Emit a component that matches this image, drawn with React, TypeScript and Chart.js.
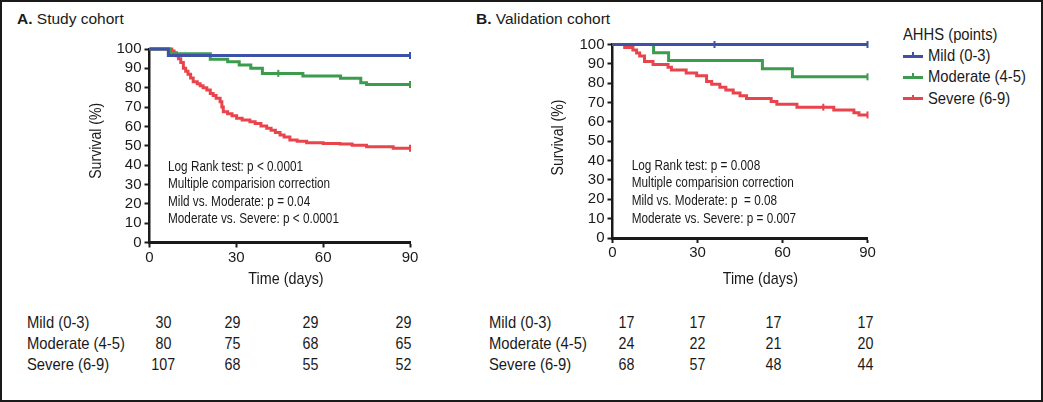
import React, { useEffect, useRef } from "react";
import { Chart, registerables } from "chart.js";

Chart.register(...registerables);

const SANS = "'Liberation Sans', Arial, Helvetica, sans-serif";
const INK = "#1a1a1a";

// ---------- series meta ----------
const seriesLabels = ["Mild (0-3)", "Moderate (4-5)", "Severe (6-9)"];
const seriesColors = ["#3d52a6", "#3a9c4c", "#e9444c"];
const legendTitle = "AHHS (points)";

// ---------- axes ----------
const xMin = 0;
const xMax = 90;
const xStep = 30;
const yMin = 0;
const yMax = 100;
const yStep = 10;
const xTitle = "Time (days)";
const yTitle = "Survival (%)";

// ---------- Panel A: Study cohort ----------
const titleA = "Study cohort";
const aMildT = [0, 6.5, 90];
const aMildV = [100, 96.7, 96.7];
const aModT = [0, 7, 21, 27, 31, 35, 39, 53, 66, 73, 75, 90];
const aModV = [100, 97.5, 94.7, 93.4, 91.7, 90, 87.4, 86, 84.9, 82.6, 81.7, 81.7];
const aSevT = [0, 7.7, 8.5, 9.3, 10, 10.8, 11.7, 12.5, 13.3, 14.2, 15.1, 16.5, 17.5, 18.5, 19.8, 21, 22, 23, 24.4, 25, 25.5, 27, 28.5, 30.1, 32, 34.7, 36.5, 38.5, 40.5, 42, 43.5, 45.1, 46.5, 48.5, 51, 54.3, 60, 65.8, 70, 75, 84.2, 90];
const aSevV = [100, 99, 98, 96.5, 95, 93, 90, 88.5, 87, 85, 83.1, 82, 81, 80, 78.8, 77, 76, 74.5, 72.8, 70, 67.6, 66.5, 65.5, 64.2, 63.3, 62.4, 61.5, 60.2, 59, 58, 56.8, 55.6, 54.5, 53, 52.3, 51.6, 51.2, 50.9, 50.2, 49.5, 48.7, 48.7];
const aMildCensorT = [90];
const aMildCensorV = [96.7];
const aModCensorT = [44.5, 90];
const aModCensorV = [87.4, 81.7];
const aSevCensorT = [90];
const aSevCensorV = [48.7];
const annotA = [
  "Log Rank test: p < 0.0001",
  "Multiple comparision correction",
  "Mild vs. Moderate: p = 0.04",
  "Moderate vs. Severe: p < 0.0001",
];
const riskA_Mild = [30, 29, 29, 29];
const riskA_Mod = [80, 75, 68, 65];
const riskA_Sev = [107, 68, 55, 52];

// ---------- Panel B: Validation cohort ----------
const titleB = "Validation cohort";
const bMildT = [0, 36, 90];
const bMildV = [100, 100, 100];
const bModT = [0, 14.5, 19.8, 52.9, 63.5, 90];
const bModV = [100, 95.8, 91.7, 87.5, 83.3, 83.3];
const bSevT = [0, 4.3, 7.2, 8.5, 9.6, 11.3, 14.3, 19.6, 20.8, 26, 29.7, 33.2, 35, 37.9, 40, 42.6, 45, 47.3, 56, 58, 65.1, 74.4, 78.1, 85.2, 87, 90];
const bSevV = [100, 98.5, 97.1, 95.6, 94.1, 91.2, 89.7, 88.2, 86.8, 85.3, 83.8, 80.9, 79.4, 77.9, 76.5, 75, 73.5, 72.1, 70.6, 69.1, 67.6, 67.6, 66.2, 64.7, 63.6, 63.6];
const bMildCensorT = [36, 90];
const bMildCensorV = [100, 100];
const bModCensorT = [90];
const bModCensorV = [83.3];
const bSevCensorT = [74.4, 90];
const bSevCensorV = [67.6, 63.6];
const annotB = [
  "Log Rank test: p = 0.008",
  "Multiple comparision correction",
  "Mild vs. Moderate: p  = 0.08",
  "Moderate vs. Severe: p = 0.007",
];
const riskB_Mild = [17, 17, 17, 17];
const riskB_Mod = [24, 22, 21, 20];
const riskB_Sev = [68, 57, 48, 44];

function condensed(ctx: CanvasRenderingContext2D, text: string, x: number, y: number, sx: number, align: CanvasTextAlign, rot = 0) {
  ctx.save();
  ctx.translate(x, y);
  if (rot) ctx.rotate(rot);
  ctx.scale(sx, 1);
  ctx.textAlign = align;
  ctx.fillText(text, 0, 0);
  ctx.restore();
}

const textPlugin = {
  id: "kmtext",
  afterDraw(chart: any, _args: any, o: any) {
    const { ctx, chartArea } = chart;
    ctx.save();
    ctx.fillStyle = INK;
    ctx.textBaseline = "middle";
    ctx.font = `14px ${SANS}`;
    (o.lines || []).forEach((s: string, i: number) => {
      condensed(ctx, s, chartArea.left + o.dx, chartArea.top + o.dy + i * o.gap, 0.84, "left");
    });
    ctx.font = `17px ${SANS}`;
    condensed(ctx, xTitle, chartArea.left + o.xtX, chartArea.bottom + o.xtY, 0.845, "center");
    condensed(ctx, yTitle, chartArea.left + o.ytX, chartArea.top + o.ytY, 0.83, "center", -Math.PI / 2);
    ctx.restore();
  },
};

type Geo = {
  left: number; top: number; width: number; height: number;
  padTop: number; padRight: number; yWidth: number; xHeight: number;
  annDx: number; annDy: number; xtX: number; xtY: number; ytX: number; ytY: number;
};

function pts(t: number[], v: number[]) {
  return t.map((x, i) => ({ x, y: v[i] }));
}

function KMChart(props: {
  lines: { t: number[]; v: number[] }[];
  censors: { t: number[]; v: number[] }[];
  annot: string[];
  geo: Geo;
}) {
  const ref = useRef<HTMLCanvasElement | null>(null);
  const { geo } = props;
  useEffect(() => {
    if (!ref.current) return;
    const lineSets = props.lines.map((s, i) => ({
      label: seriesLabels[i],
      data: pts(s.t, s.v),
      borderColor: seriesColors[i],
      backgroundColor: seriesColors[i],
      borderWidth: 3,
      stepped: "before" as const,
      pointRadius: 0,
      fill: false,
      clip: false,
      order: i,
    }));
    const censorSets = props.censors.map((s, i) => ({
      label: seriesLabels[i] + " censored",
      data: pts(s.t, s.v),
      showLine: false,
      pointStyle: "line" as const,
      rotation: 90,
      pointRadius: 3.5,
      pointBorderWidth: 2,
      pointBorderColor: seriesColors[i],
      borderColor: seriesColors[i],
      backgroundColor: seriesColors[i],
      clip: false,
      order: i,
    }));
    const chart = new Chart(ref.current, {
      type: "line",
      data: { datasets: [...lineSets, ...censorSets] as any },
      plugins: [textPlugin as any],
      options: {
        responsive: false,
        animation: false,
        devicePixelRatio: 1,
        layout: { padding: { top: geo.padTop, right: geo.padRight, left: 0, bottom: 0 } },
        plugins: {
          legend: { display: false },
          tooltip: { enabled: false },
          kmtext: {
            lines: props.annot, dx: geo.annDx, dy: geo.annDy, gap: 17.6,
            xtX: geo.xtX, xtY: geo.xtY, ytX: geo.ytX, ytY: geo.ytY,
          },
        } as any,
        scales: {
          x: {
            type: "linear",
            min: xMin,
            max: xMax,
            afterFit: (s: any) => { s.height = geo.xHeight; },
            ticks: { stepSize: xStep, autoSkip: false, color: INK, font: { family: SANS, size: 15 }, padding: 1 },
            grid: { display: true, drawOnChartArea: false, drawTicks: true, tickLength: 5, tickWidth: 2, tickColor: INK },
            border: { display: true, color: INK, width: 3 },
          },
          y: {
            type: "linear",
            min: yMin,
            max: yMax,
            afterFit: (s: any) => { s.width = geo.yWidth; },
            ticks: { stepSize: yStep, autoSkip: false, color: INK, font: { family: SANS, size: 15 }, padding: 3 },
            grid: { display: true, drawOnChartArea: false, drawTicks: true, tickLength: 5, tickWidth: 2, tickColor: INK },
            border: { display: true, color: INK, width: 2.5 },
          },
        },
      } as any,
    });
    return () => chart.destroy();
  }, []);
  return (
    <canvas
      ref={ref}
      width={geo.width}
      height={geo.height}
      style={{ position: "absolute", left: geo.left, top: geo.top, width: geo.width, height: geo.height }}
    />
  );
}

const geoA: Geo = {
  left: 40, top: 30, width: 390, height: 270,
  padTop: 19, padRight: 20, yWidth: 109.5, xHeight: 57.5,
  annDx: 18.5, annDy: 117.7, xtX: 136.5, xtY: 36.5, ytX: -52.8, ytY: 91.8,
};
const geoB: Geo = {
  left: 500, top: 30, width: 390, height: 270,
  padTop: 14.5, padRight: 22.5, yWidth: 112.5, xHeight: 62,
  annDx: 19.2, annDy: 121.5, xtX: 147.8, xtY: 41, ytX: -54, ytY: 93,
};

function Txt(p: { x: number; cy: number; children: any; size?: number; sx?: number; w?: number; align?: "left" | "center" }) {
  const size = p.size ?? 17;
  const lh = 20;
  const sx = p.sx ?? 0.87;
  const style: any = {
    position: "absolute",
    top: p.cy - (0.5 * (lh - 1.117 * size) + 0.547 * size),
    fontSize: size,
    lineHeight: lh + "px",
    fontFamily: SANS,
    color: INK,
    whiteSpace: "nowrap",
  };
  if (p.align === "center") {
    style.left = p.x - (p.w ?? 40) / 2;
    style.width = p.w ?? 40;
    style.textAlign = "center";
  } else {
    style.left = p.x;
  }
  return (
    <div style={style}>
      <span style={{ display: "inline-block", transform: `scaleX(${sx})`, transformOrigin: p.align === "center" ? "center center" : "left center" }}>
        {p.children}
      </span>
    </div>
  );
}

function RiskTable(p: { labelX: number; cols: number[]; rows: number[][] }) {
  const rowY = [322.7, 344, 365.3];
  return (
    <>
      {p.rows.map((r, ri) => (
        <React.Fragment key={ri}>
          <Txt x={p.labelX} cy={rowY[ri]}>{seriesLabels[ri]}</Txt>
          {r.map((n, ci) => (
            <Txt key={ci} x={p.cols[ci]} cy={rowY[ri]} align="center" sx={0.84}>{n}</Txt>
          ))}
        </React.Fragment>
      ))}
    </>
  );
}

function Legend() {
  const itemY = [56, 77.3, 98.6];
  return (
    <>
      <Txt x={903} cy={35}>{legendTitle}</Txt>
      {seriesLabels.map((l, i) => (
        <React.Fragment key={l}>
          <div style={{ position: "absolute", left: 903, top: itemY[i] - 1.5, width: 20, height: 3, background: seriesColors[i] }} />
          <div style={{ position: "absolute", left: 912, top: itemY[i] - 4, width: 2, height: 5, background: seriesColors[i] }} />
          <Txt x={928} cy={itemY[i]}>{l}</Txt>
        </React.Fragment>
      ))}
    </>
  );
}

export default function App() {
  return (
    <div style={{ position: "absolute", left: 0, top: 0, width: 1043, height: 402, background: "#fff", overflow: "hidden" }}>
      <Txt x={17} cy={19} size={15.5} sx={1}><b>A.</b> {titleA}</Txt>
      <Txt x={476} cy={19} size={15.5} sx={1}><b>B.</b> {titleB}</Txt>
      <KMChart
        geo={geoA}
        lines={[{ t: aMildT, v: aMildV }, { t: aModT, v: aModV }, { t: aSevT, v: aSevV }]}
        censors={[{ t: aMildCensorT, v: aMildCensorV }, { t: aModCensorT, v: aModCensorV }, { t: aSevCensorT, v: aSevCensorV }]}
        annot={annotA}
      />
      <KMChart
        geo={geoB}
        lines={[{ t: bMildT, v: bMildV }, { t: bModT, v: bModV }, { t: bSevT, v: bSevV }]}
        censors={[{ t: bMildCensorT, v: bMildCensorV }, { t: bModCensorT, v: bModCensorV }, { t: bSevCensorT, v: bSevCensorV }]}
        annot={annotB}
      />
      <Legend />
      <RiskTable labelX={27} cols={[163, 232, 310, 403]} rows={[riskA_Mild, riskA_Mod, riskA_Sev]} />
      <RiskTable labelX={489} cols={[626, 697, 773, 865]} rows={[riskB_Mild, riskB_Mod, riskB_Sev]} />
      <div style={{ position: "absolute", left: 0, top: 0, width: 1043, height: 402, boxSizing: "border-box", border: "2px solid #1a1a1a", pointerEvents: "none" }} />
    </div>
  );
}
